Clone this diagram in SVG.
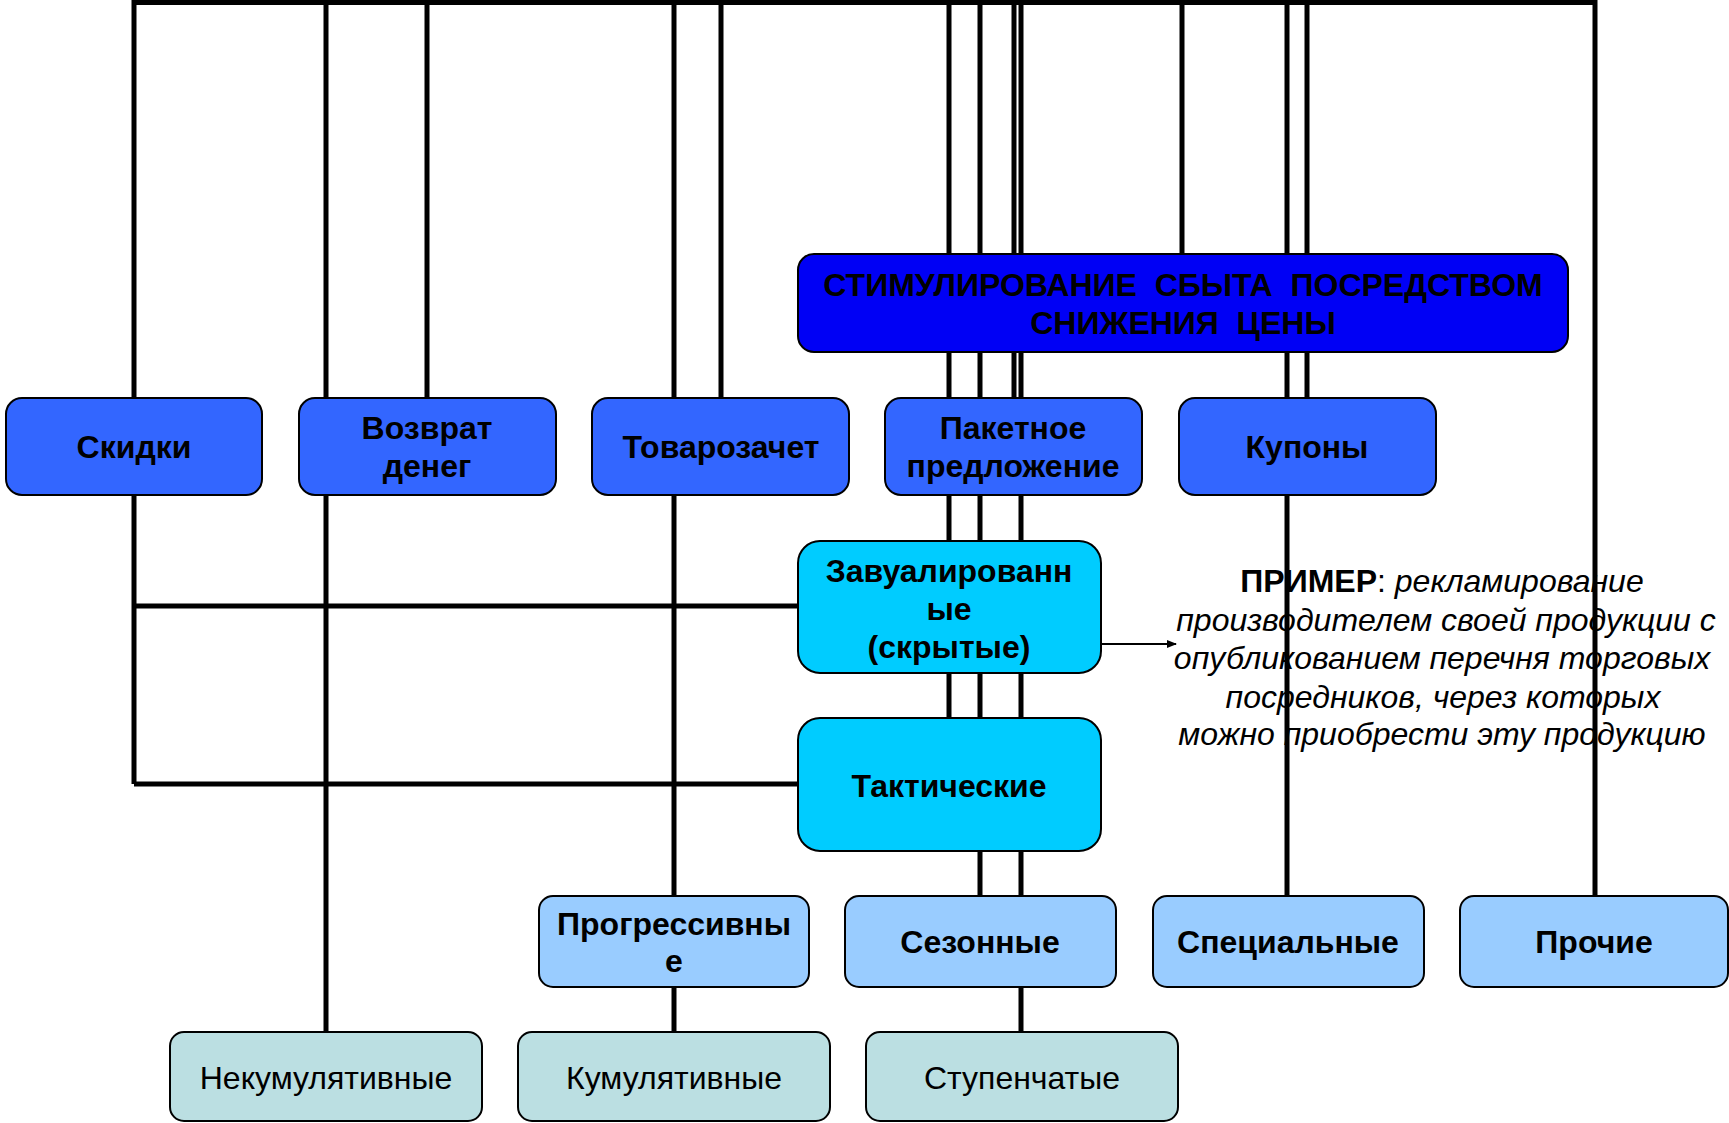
<svg xmlns="http://www.w3.org/2000/svg" width="1729" height="1123" viewBox="0 0 1729 1123">
<style>
.box{stroke:#000;stroke-width:2}
.c0{fill:#0000F5}
.c1{fill:#3366FF}
.c2{fill:#00CCFF}
.c3{fill:#99CCFF}
.c4{fill:#BBDFE2}
.b{font-family:"Liberation Sans",Arial,sans-serif;font-weight:bold;font-size:32px;text-anchor:middle;fill:#000;white-space:pre}
.n{font-family:"Liberation Sans",Arial,sans-serif;font-size:32px;text-anchor:middle;fill:#000}
.note{font-family:"Liberation Sans",Arial,sans-serif;font-size:32px;text-anchor:middle;fill:#000;font-style:italic}
.bus{stroke:#000;stroke-width:5;fill:none}
.arr{stroke:#000;stroke-width:2;fill:none}
</style>
<defs>
<marker id="ah" markerWidth="10" markerHeight="8" refX="9" refY="4" orient="auto" markerUnits="userSpaceOnUse">
<path d="M0,0 L10,4 L0,8 Z" fill="#000"/>
</marker>
</defs>
<rect width="1729" height="1123" fill="#fff"/>
<g id="connectors">
<path class="bus" d="M134,2.5 H1595"/>
<path class="bus" d="M134,0 V398 M134,495 V784 M134,606 H798 M134,784 H798"/>
<path class="bus" d="M326,0 V398 M326,495 V1032"/>
<path class="bus" d="M427,0 V398"/>
<path class="bus" d="M674,0 V398 M674,495 V896 M674,987 V1032"/>
<path class="bus" d="M721,0 V398"/>
<path class="bus" d="M949,0 V718"/>
<path class="bus" d="M980,0 V896"/>
<path class="bus" d="M1014,0 V398"/>
<path class="bus" d="M1021,0 V1032"/>
<path class="bus" d="M1182,0 V254"/>
<path class="bus" d="M1287,0 V896"/>
<path class="bus" d="M1307,0 V398"/>
<path class="bus" d="M1595,0 V896"/>
<path class="arr" d="M1101,644 H1176" marker-end="url(#ah)"/>
</g>
<g id="main">
<rect class="box c0" x="798" y="254" width="770" height="98" rx="16"/>
<text class="b" x="1183" y="296" xml:space="preserve">СТИМУЛИРОВАНИЕ  СБЫТА  ПОСРЕДСТВОМ</text>
<text class="b" x="1183" y="334" xml:space="preserve">СНИЖЕНИЯ  ЦЕНЫ</text>
</g>
<g id="skidki">
<rect class="box c1" x="6" y="398" width="256" height="97" rx="16"/>
<text class="b" x="134" y="458">Скидки</text>
</g>
<g id="vozvrat">
<rect class="box c1" x="299" y="398" width="257" height="97" rx="16"/>
<text class="b" x="427" y="439">Возврат</text>
<text class="b" x="427" y="477">денег</text>
</g>
<g id="tovarozachet">
<rect class="box c1" x="592" y="398" width="257" height="97" rx="16"/>
<text class="b" x="721" y="458">Товарозачет</text>
</g>
<g id="paket">
<rect class="box c1" x="885" y="398" width="257" height="97" rx="16"/>
<text class="b" x="1013" y="439">Пакетное</text>
<text class="b" x="1013" y="477">предложение</text>
</g>
<g id="kupony">
<rect class="box c1" x="1179" y="398" width="257" height="97" rx="16"/>
<text class="b" x="1307" y="458">Купоны</text>
</g>
<g id="zavual">
<rect class="box c2" x="798" y="541" width="303" height="132" rx="22"/>
<text class="b" x="949" y="582">Завуалированн</text>
<text class="b" x="949" y="620">ые</text>
<text class="b" x="949" y="658">(скрытые)</text>
</g>
<g id="takt">
<rect class="box c2" x="798" y="718" width="303" height="133" rx="22"/>
<text class="b" x="949" y="797">Тактические</text>
</g>
<g id="primer">
<text class="note" x="1442" y="592"><tspan font-style="normal" font-weight="bold">ПРИМЕР</tspan><tspan font-style="normal">: </tspan>рекламирование</text>
<text class="note" x="1446" y="631">производителем своей продукции с</text>
<text class="note" x="1442" y="669">опубликованием перечня торговых</text>
<text class="note" x="1443" y="708">посредников, через которых</text>
<text class="note" x="1442" y="745">можно приобрести эту продукцию</text>
</g>
<g id="progr">
<rect class="box c3" x="539" y="896" width="270" height="91" rx="14"/>
<text class="b" x="674" y="935">Прогрессивны</text>
<text class="b" x="674" y="972">е</text>
</g>
<g id="sezon">
<rect class="box c3" x="845" y="896" width="271" height="91" rx="14"/>
<text class="b" x="980" y="953">Сезонные</text>
</g>
<g id="spec">
<rect class="box c3" x="1153" y="896" width="271" height="91" rx="14"/>
<text class="b" x="1288" y="953">Специальные</text>
</g>
<g id="prochie">
<rect class="box c3" x="1460" y="896" width="268" height="91" rx="14"/>
<text class="b" x="1594" y="953">Прочие</text>
</g>
<g id="nekum">
<rect class="box c4" x="170" y="1032" width="312" height="89" rx="14"/>
<text class="n" x="326" y="1089">Некумулятивные</text>
</g>
<g id="kum">
<rect class="box c4" x="518" y="1032" width="312" height="89" rx="14"/>
<text class="n" x="674" y="1089">Кумулятивные</text>
</g>
<g id="stup">
<rect class="box c4" x="866" y="1032" width="312" height="89" rx="14"/>
<text class="n" x="1022" y="1089">Ступенчатые</text>
</g>
</svg>
